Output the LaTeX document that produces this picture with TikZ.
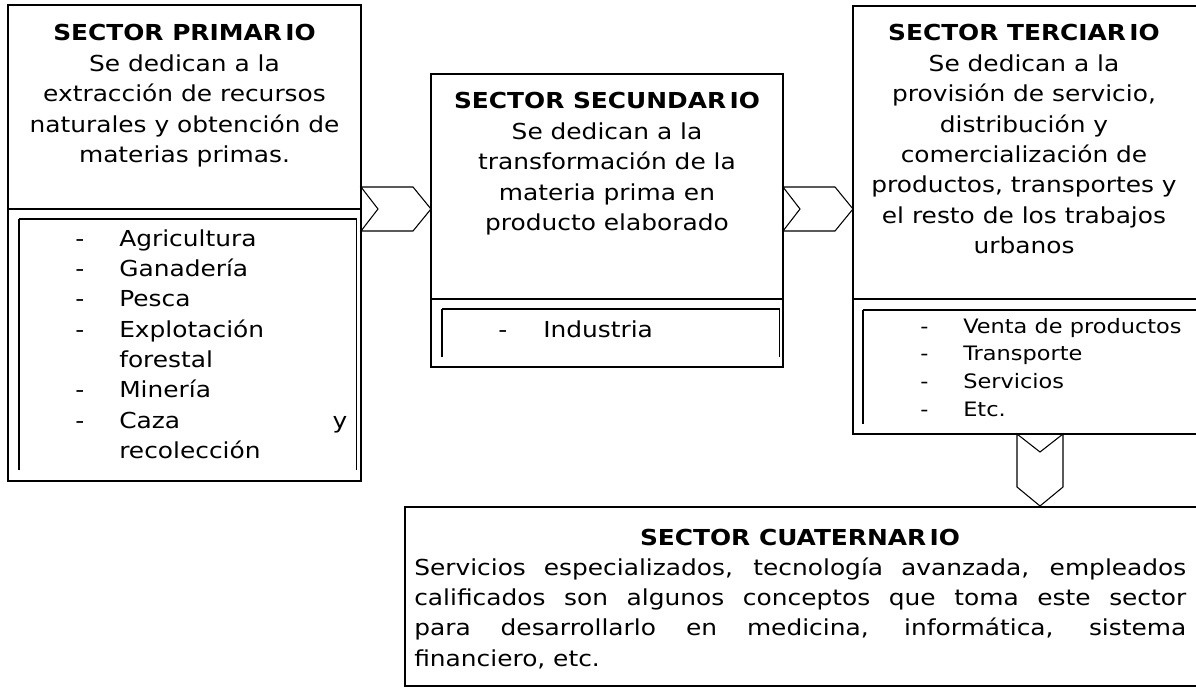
\documentclass[tikz,border=0pt]{standalone}
\usepackage{fontspec}
\setmainfont{DejaVu Sans}[FakeStretch=1.13]
\newcommand{\gapRI}{\kern2.5pt}
\begin{document}
\begin{tikzpicture}[x=0.75pt,y=-0.75pt,
  frame/.style={line width=1pt},
  innertop/.style={line width=1.6pt},
  innerside/.style={line width=1pt},
  thinside/.style={line width=0.6pt},
  chev/.style={line width=0.8pt, line join=miter},
  main/.style={font=\fontsize{16.5pt}{22.8pt}\selectfont},
  small/.style={font=\fontsize{14.9pt}{20.8pt}\selectfont},
  txt/.style={inner sep=0pt, anchor=base, main},
  txtw/.style={inner sep=0pt, anchor=base west, main},
]
\useasboundingbox (0,0) rectangle (1196,688);
\fill[white] (0,0) rectangle (1196,688);

% ---------- box outlines ----------
\coordinate (Ptl) at (8,5);     \coordinate (Pbr) at (361,481);
\coordinate (Stl) at (431,74);  \coordinate (Sbr) at (783,367);
\coordinate (Ttl) at (853,6);   \coordinate (Tbr) at (1198,434);
\coordinate (Ctl) at (405,507); \coordinate (Cbr) at (1198,686);

\draw[frame] (Ptl) rectangle (Pbr);
\draw[frame] (8,209) -- (361,209);
\draw[innertop] (19,219) -- (357,219);
\draw[innerside] (19,219) -- (19,470);
\draw[thinside] (356,219) -- (356,470);

\draw[frame] (Stl) rectangle (Sbr);
\draw[frame] (431,299) -- (783,299);
\draw[innertop] (442,309) -- (780,309);
\draw[innerside] (442,309) -- (442,357);
\draw[thinside] (779,309) -- (779,357);

\draw[frame] (Ttl) rectangle (Tbr);
\draw[frame] (853,299) -- (1198,299);
\draw[innertop] (863,310) -- (1198,310);
\draw[innerside] (863,310) -- (863,424);

\draw[frame] (Ctl) rectangle (Cbr);

% ---------- chevrons ----------
\draw[chev] (361,187) -- (413,187) -- (431,209) -- (413,231) -- (361,231) -- (378,209) -- cycle;
\draw[chev] (783,187) -- (835,187) -- (853,209) -- (835,231) -- (783,231) -- (800,209) -- cycle;
\draw[chev] (1017,434) -- (1040,452) -- (1063,434) -- (1063,487) -- (1040,506) -- (1017,487) -- cycle;

% ---------- texts ----------
\node[txt] (prim) at (184.5,41) {\parbox[t]{320pt}{\centering
  \textbf{SECTOR PRIMAR\gapRI IO}\\Se dedican a la\\extracción de recursos\\naturales y obtención de\\materias primas.}};
\node[txtw] (primd) at (75,246) {\parbox[t]{20pt}{-\\-\\-\\-\\\mbox{}\\-\\-\\\mbox{}}};
\node[txtw] (primi) at (119,246) {\parbox[t]{171pt}{Agricultura\\Ganadería\\Pesca\\Explotación\\forestal\\Minería\\Caza\hfill y\\recolección}};

\node[txt] (secu) at (607,109) {\parbox[t]{320pt}{\centering
  \textbf{SECTOR SECUNDAR\gapRI IO}\\Se dedican a la\\transformación de la\\materia prima en\\producto elaborado}};
\node[txtw] (secud) at (498,337) {-};
\node[txtw] (secui) at (543,337) {Industria};

\node[txt] (terc) at (1024,41) {\parbox[t]{320pt}{\centering
  \textbf{SECTOR TERCIAR\gapRI IO}\\Se dedican a la\\provisión de servicio,\\distribución y\\comercialización de\\productos, transportes y\\el resto de los trabajos\\urbanos}};
\node[txtw, small] (tercd) at (920,333) {\parbox[t]{20pt}{-\\-\\-\\-}};
\node[txtw, small] (terci) at (963,333) {\parbox[t]{200pt}{Venta de productos\\Transporte\\Servicios\\Etc.}};

\node[txt] (cuat) at (800,545) {\textbf{SECTOR CUATERNAR\gapRI IO}};
\node[txtw] (cuatp) at (414,575) {\parbox[t]{579pt}{\hyphenpenalty=10000 \tolerance=10000
  Servicios especializados, tecnología avanzada, empleados\linebreak
  calificados son algunos conceptos que toma este sector\linebreak
  para desarrollarlo en medicina, informática, sistema\linebreak
  financiero, etc.}};
\end{tikzpicture}
\end{document}
